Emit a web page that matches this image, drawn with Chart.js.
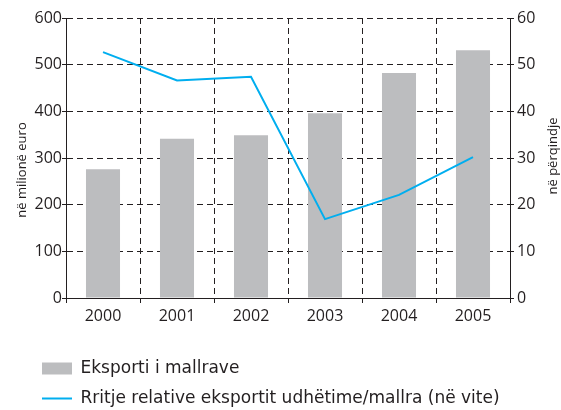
<!DOCTYPE html>
<html><head><meta charset="utf-8">
<script src="https://cdn.jsdelivr.net/npm/chart.js@4/dist/chart.umd.min.js"></script>
<style>html,body{margin:0;padding:0;background:#fff}</style>
</head><body>
<canvas id="c" width="561" height="410"></canvas>
<script>
const years = ['2000', '2001', '2002', '2003', '2004', '2005'];
const exportGoods = [276, 341, 349, 396, 482, 531];
const relativeGrowth = [52.7, 46.6, 47.4, 16.9, 22.1, 30.2];
const leftTitle = 'në milionë euro';
const rightTitle = 'në përqindje';
const barLabel = 'Eksporti i mallrave';
const lineLabel = 'Rritje relative eksportit udhëtime/mallra (në vite)';

const ink = '#231f20';
const dash = [6, 4];
const fontFamily = '"Open Sans", Lato, sans-serif';
const legendFont = '"DejaVu Sans", "Open Sans", sans-serif';

const legendShift = {
  id: 'legendShift',
  afterLayout(chart) {
    const l = chart.legend;
    l.left += 29; l.right += 29;
    l.top += 7; l.bottom += 7;
  }
};

// axis titles, both reading bottom-to-top
const axisTitles = {
  id: 'axisTitles',
  afterDraw(chart) {
    const ctx = chart.ctx;
    const a = chart.chartArea;
    const mid = (a.top + a.bottom) / 2;
    const draw = (text, x, y) => {
      ctx.save();
      ctx.translate(x, y);
      ctx.rotate(-Math.PI / 2);
      ctx.font = '13px ' + fontFamily;
      ctx.fillStyle = ink;
      ctx.textAlign = 'center';
      ctx.textBaseline = 'middle';
      ctx.fillText(text, 0, 0);
      ctx.restore();
    };
    draw(leftTitle, chart.scales.y.left + 22, mid + 12);
    draw(rightTitle, chart.scales.y1.right - 8, mid - 2);
  }
};

new Chart(document.getElementById('c'), {
  data: {
    labels: years,
    datasets: [
      {
        type: 'line', label: lineLabel, data: relativeGrowth, yAxisID: 'y1',
        borderColor: '#00aeef', backgroundColor: '#00aeef', borderWidth: 2,
        pointRadius: 0, pointStyle: 'line', tension: 0, order: 0
      },
      {
        type: 'bar', label: barLabel, data: exportGoods, yAxisID: 'y',
        backgroundColor: '#bcbdbf', borderWidth: 0, pointStyle: 'rect',
        categoryPercentage: 0.46, barPercentage: 1, order: 1
      }
    ]
  },
  options: {
    responsive: false, animation: false,
    layout: { padding: { top: 18, left: 0, right: 0, bottom: 0 } },
    plugins: {
      tooltip: { enabled: false },
      legend: {
        position: 'bottom', align: 'start', reverse: true,
        labels: {
          usePointStyle: true, pointStyleWidth: 30, boxHeight: 12,
          padding: 13, color: ink, font: { family: legendFont, size: 17 }
        }
      }
    },
    scales: {
      x: {
        afterFit(s) { s.height = 42; },
        grid: { color: ink, offset: true, tickLength: 5, tickBorderDash: [] },
        border: { color: ink, dash: dash },
        ticks: { color: ink, padding: 4, font: { family: fontFamily, size: 16 } }
      },
      y: {
        position: 'left', min: 0, max: 600,
        afterFit(s) { s.width = 66; },
        grid: { color: ink, tickLength: 4, tickBorderDash: [] },
        border: { color: ink, dash: dash },
        ticks: { stepSize: 100, color: ink, padding: 0, font: { family: fontFamily, size: 16 } },
        title: { display: false }
      },
      y1: {
        position: 'right', min: 0, max: 60,
        afterFit(s) { s.width = 51; },
        grid: { color: ink, drawOnChartArea: false, tickLength: 4, tickBorderDash: [] },
        border: { color: ink, dash: dash },
        ticks: { stepSize: 10, color: ink, padding: 3, font: { family: fontFamily, size: 16 } },
        title: { display: false }
      }
    }
  },
  plugins: [legendShift, axisTitles]
});
</script>
</body></html>
